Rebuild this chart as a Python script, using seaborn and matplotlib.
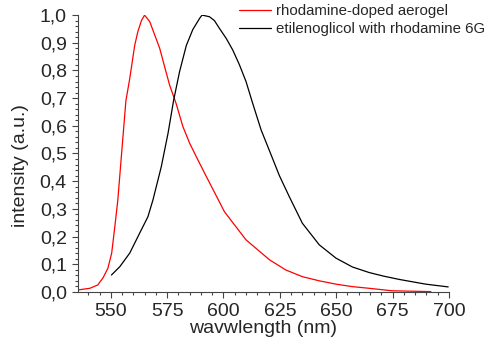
import numpy as np
import pandas as pd
import seaborn as sns
import matplotlib
matplotlib.use("Agg")
import matplotlib.pyplot as plt
from matplotlib.ticker import MultipleLocator

# emission spectra
aerogel_wl = [535.4, 540.7, 544.2, 546.5, 548.7, 550.4, 551.8, 553.1, 554.9, 556.7,
              558.4, 560.6, 562.0, 563.6, 565.0, 567.3, 569.5, 571.7, 573.9, 576.1,
              579.0, 582.0, 585.0, 587.9, 592.0, 597.5, 600.4, 604.9, 610.0, 615.2,
              620.4, 627.7, 635.0, 642.5, 649.9, 657.2, 664.6, 674.8, 692.0]
aerogel_int = [0.007, 0.013, 0.025, 0.05, 0.085, 0.14, 0.236, 0.33, 0.51, 0.69,
               0.77, 0.89, 0.94, 0.98, 1.0, 0.976, 0.928, 0.88, 0.813, 0.747,
               0.68, 0.597, 0.537, 0.489, 0.423, 0.336, 0.29, 0.242, 0.188, 0.152,
               0.116, 0.079, 0.055, 0.04, 0.028, 0.019, 0.013, 0.004, 0.001]

glycol_wl = [550.3, 554.0, 558.4, 562.8, 566.5, 568.7, 572.4, 575.4, 577.9, 580.5,
             583.5, 586.4, 589.4, 590.5, 593.8, 596.0, 598.2, 601.2, 604.1, 607.1,
             610.0, 613.0, 616.7, 620.4, 624.8, 629.2, 635.0, 642.5, 649.9, 657.2,
             664.6, 671.0, 678.0, 689.7, 699.7]
glycol_int = [0.061, 0.091, 0.14, 0.212, 0.272, 0.332, 0.452, 0.573, 0.693, 0.795,
              0.89, 0.948, 0.988, 1.0, 0.994, 0.98, 0.952, 0.916, 0.874, 0.82,
              0.76, 0.68, 0.585, 0.51, 0.42, 0.344, 0.248, 0.17, 0.122, 0.09,
              0.07, 0.057, 0.045, 0.028, 0.018]

labels = ["rhodamine-doped aerogel", "etilenoglicol with rhodamine 6G"]

df = pd.concat([
    pd.DataFrame({"wl": aerogel_wl, "I": aerogel_int, "sample": labels[0]}),
    pd.DataFrame({"wl": glycol_wl, "I": glycol_int, "sample": labels[1]}),
])

sns.set_style("ticks")
plt.rcParams['font.family'] = ['Liberation Sans', 'DejaVu Sans']

fig = plt.figure(figsize=(4.96, 3.43), dpi=100)
ax = fig.add_axes([0.157, 0.149, 0.748, 0.807])

sns.lineplot(data=df, x="wl", y="I", hue="sample", palette=["#ff0000", "black"],
             sort=False, estimator=None, ax=ax, linewidth=0.9)

ax.set_xlim(535.4, 700)
ax.set_ylim(0, 1.0)
ax.xaxis.set_major_locator(MultipleLocator(25))
ax.xaxis.set_minor_locator(MultipleLocator(5))
ax.yaxis.set_major_locator(MultipleLocator(0.1))
ax.yaxis.set_minor_locator(MultipleLocator(0.02))
ax.set_yticks(np.arange(0, 1.01, 0.1))
ax.set_yticklabels([f"{v:.1f}".replace('.', ',') for v in np.arange(0, 1.01, 0.1)])

ax.tick_params(which='major', length=4.5, width=0.8, labelsize=14, color='#444444')
ax.tick_params(which='minor', length=2.2, width=0.8, color='#444444')
sns.despine(ax=ax)
for s in ['left', 'bottom']:
    ax.spines[s].set_color('#444444')
    ax.spines[s].set_linewidth(0.8)

ax.set_xlabel("wavwlength (nm)", fontsize=14, labelpad=0)
ax.set_ylabel("intensity (a.u.)", fontsize=14)
ax.yaxis.set_label_coords(-0.133, 0.457)

ax.legend(frameon=False, fontsize=10.8, loc='upper left', bbox_to_anchor=(0.419, 1.06),
          handlelength=2.1, handletextpad=0.35, labelspacing=0.25, borderaxespad=0)

fig.savefig("out.png", dpi=100)
